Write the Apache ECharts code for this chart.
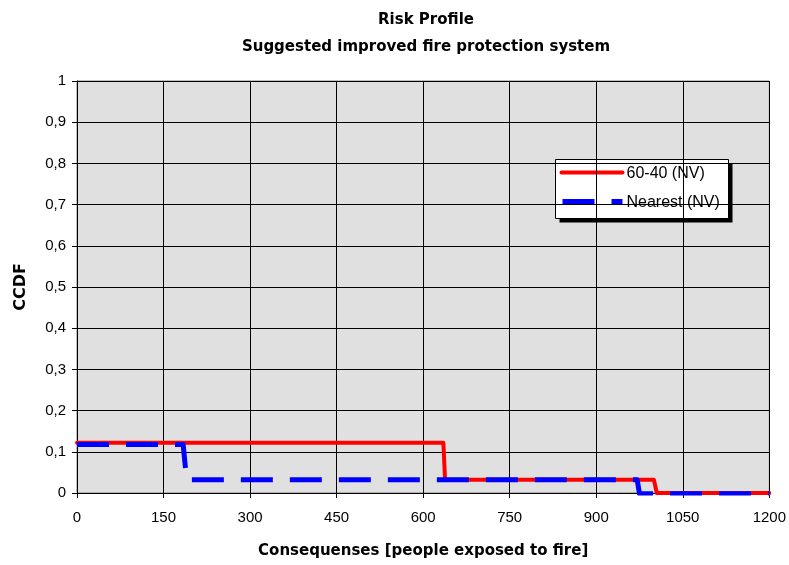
<!DOCTYPE html>
<html>
<head>
<meta charset="utf-8">
<script src="https://cdn.jsdelivr.net/npm/echarts@6/dist/echarts.min.js"></script>
<style>
  html, body { margin: 0; padding: 0; background: #fff; }
  #chart { width: 789px; height: 565px; }
</style>
</head>
<body>
<div id="chart"></div>
<script>
// Step curves of the complementary cumulative distribution (CCDF)
const consequencesA = [0, 635, 638, 1000, 1005, 1200];
const ccdfA = [0.122, 0.122, 0.032, 0.032, 0.0, 0.0];

const consequencesB = [0, 184, 190, 971, 975, 1200];
const ccdfB = [0.118, 0.118, 0.032, 0.032, -0.002, -0.002];

const seriesNames = ['60-40 (NV)', 'Nearest (NV)'];
const xTicks = [0, 150, 300, 450, 600, 750, 900, 1050, 1200];
const yTicks = [0, 0.1, 0.2, 0.3, 0.4, 0.5, 0.6, 0.7, 0.8, 0.9, 1];

const toPairs = (xs, ys) => xs.map((x, i) => [x, ys[i]]);
const fmtComma = v => String(Math.round(v * 10) / 10).replace('.', ',');

const font = '"Liberation Sans", Arial, sans-serif';
const boldFont = '"DejaVu Sans", "Liberation Sans", sans-serif';
const RED = '#ff0000';
const BLUE = '#0000ff';

const chart = echarts.init(document.getElementById('chart'), null, { renderer: 'canvas' });

// Boxed legend with drop shadow, drawn as graphic elements
const legendBox = { x: 555, y: 159, w: 173, h: 59 };
const legendGraphic = {
  type: 'group', left: legendBox.x, top: legendBox.y, z: 100,
  children: [
    { type: 'rect', shape: { x: 4, y: 4, width: legendBox.w, height: legendBox.h },
      style: { fill: '#000' } },
    { type: 'rect', shape: { x: 0, y: 0, width: legendBox.w, height: legendBox.h },
      style: { fill: '#fff', stroke: '#000', lineWidth: 1 } },
    { type: 'line', shape: { x1: 6, y1: 13, x2: 67, y2: 13 },
      style: { stroke: RED, lineWidth: 4, lineCap: 'round' } },
    { type: 'text', x: 71, y: 14,
      style: { text: seriesNames[0], fill: '#000', font: '16px ' + font, textVerticalAlign: 'middle' } },
    { type: 'line', shape: { x1: 7, y1: 42, x2: 67, y2: 42 },
      style: { stroke: BLUE, lineWidth: 5, lineDash: [32, 17] } },
    { type: 'text', x: 71, y: 43,
      style: { text: seriesNames[1], fill: '#000', font: '16px ' + font, textVerticalAlign: 'middle' } }
  ]
};

chart.setOption({
  backgroundColor: '#ffffff',
  animation: false,
  title: {
    text: 'Risk Profile\nSuggested improved fire protection system',
    left: 421,
    textAlign: 'center',
    top: 2,
    textStyle: { fontFamily: boldFont, fontSize: 15, fontWeight: 'bold', color: '#000', lineHeight: 27 }
  },
  grid: {
    left: 77, top: 81, right: 18, bottom: 72,
    show: true, backgroundColor: '#e0e0e0', borderColor: '#808080', borderWidth: 1
  },
  xAxis: {
    type: 'value', min: 0, max: 1200, interval: 150,
    name: 'Consequenses [people exposed to fire]',
    nameLocation: 'middle', nameGap: 51,
    nameTextStyle: { fontFamily: boldFont, fontSize: 15, fontWeight: 'bold', color: '#000' },
    axisLine: { show: true, onZero: false, lineStyle: { color: '#000', width: 1 } },
    axisTick: { show: true, length: 5, inside: false, lineStyle: { color: '#000' } },
    axisLabel: { fontFamily: font, fontSize: 15, color: '#000', margin: 17,
      formatter: v => xTicks.includes(v) ? String(v) : '' },
    splitLine: { show: true, lineStyle: { color: '#000', width: 1 } }
  },
  yAxis: {
    type: 'value', min: 0, max: 1, interval: 0.1,
    name: 'CCDF',
    nameLocation: 'middle', nameGap: 48,
    nameTextStyle: { fontFamily: boldFont, fontSize: 16, fontWeight: 'bold', color: '#000' },
    axisLine: { show: true, onZero: false, lineStyle: { color: '#000', width: 1 } },
    axisTick: { show: true, length: 5, inside: false, lineStyle: { color: '#000' } },
    axisLabel: { fontFamily: font, fontSize: 15, color: '#000', margin: 11,
      formatter: v => yTicks.some(t => Math.abs(t - v) < 1e-9) ? fmtComma(v) : '' },
    splitLine: { show: true, lineStyle: { color: '#000', width: 1 } }
  },
  graphic: [legendGraphic],
  series: [
    {
      name: seriesNames[0], type: 'line', symbol: 'none', z: 3,
      data: toPairs(consequencesA, ccdfA),
      lineStyle: { color: RED, width: 4, cap: 'round', join: 'round' },
      itemStyle: { color: RED }
    },
    {
      name: seriesNames[1], type: 'line', symbol: 'none', z: 4,
      data: toPairs(consequencesB, ccdfB),
      lineStyle: { color: BLUE, width: 5, type: [32, 17], cap: 'butt', join: 'round' },
      itemStyle: { color: BLUE }
    }
  ]
});
</script>
</body>
</html>
